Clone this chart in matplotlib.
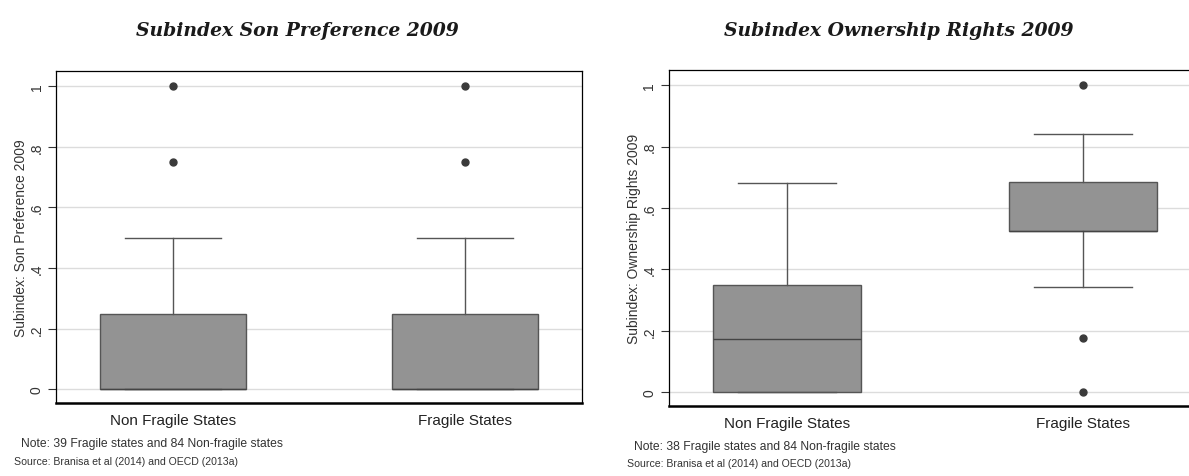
import numpy as np
import matplotlib
matplotlib.use("Agg")
import matplotlib.pyplot as plt

# group labels
groups = ["Non Fragile States", "Fragile States"]

# son preference 2009 box stats (non fragile, fragile)
son_q1 = [0.0, 0.0]
son_med = [0.0, 0.0]
son_q3 = [0.25, 0.25]
son_lo = [0.0, 0.0]
son_hi = [0.5, 0.5]
son_out = [[0.75, 1.0], [0.75, 1.0]]

# ownership rights 2009 box stats
own_q1 = [0.0, 0.525]
own_med = [0.173, 0.525]
own_q3 = [0.35, 0.685]
own_lo = [0.0, 0.343]
own_hi = [0.683, 0.843]
own_out = [[], [0.0, 0.175, 1.0]]

yticks = [0, 0.2, 0.4, 0.6, 0.8, 1.0]
ytick_labels = ["0", ".2", ".4", ".6", ".8", "1"]

plt.rcParams['font.family'] = ['Liberation Sans', 'DejaVu Sans']

BOX_FILL = "#939393"
EDGE = "#555555"
TXT = "#333333"


def make_stats(q1, med, q3, lo, hi, out):
  stats = []
  for i in range(len(q1)):
    stats.append(dict(q1=q1[i], med=med[i], q3=q3[i], whislo=lo[i],
                      whishi=hi[i], fliers=out[i], label=groups[i]))
  return stats


def draw(ax, stats, ylab):
  ax.bxp(stats, positions=[1, 2], widths=0.5, patch_artist=True,
         showfliers=True,
         boxprops=dict(facecolor=BOX_FILL, edgecolor=EDGE, linewidth=1.0),
         medianprops=dict(color="#444444", linewidth=1.0),
         whiskerprops=dict(color=EDGE, linewidth=1.0),
         capprops=dict(color=EDGE, linewidth=1.0),
         capwidths=0.33,
         flierprops=dict(marker='o', markerfacecolor="#3a3a3a",
                         markeredgecolor="#3a3a3a", markersize=5))
  ax.set_xlim(0.6, 2.4)
  ax.set_ylim(-0.045, 1.05)
  ax.set_yticks(yticks)
  ax.set_yticklabels(ytick_labels, rotation=90, va='center', fontsize=10,
                     color=TXT)
  ax.tick_params(axis='y', length=6, width=0.8, color="#333333", pad=3)
  ax.tick_params(axis='x', length=0, pad=7, labelsize=11, labelcolor="#222222")
  ax.set_xticks([1, 2])
  ax.set_xticklabels(groups)
  ax.grid(axis='y', color="#dcdcdc", linewidth=1.0)
  ax.set_axisbelow(True)
  for s in ["left", "top", "right"]:
    ax.spines[s].set_linewidth(0.9)
    ax.spines[s].set_color("black")
  ax.spines["bottom"].set_linewidth(1.8)
  ax.set_ylabel(ylab, fontsize=10, color=TXT, labelpad=1)


fig = plt.figure(figsize=(11.89, 4.77), dpi=100)
W, H = 1189.0, 477.0

ax1 = fig.add_axes([56 / W, 1 - 404 / H, 526 / W, 332 / H])
draw(ax1, make_stats(son_q1, son_med, son_q3, son_lo, son_hi, son_out),
     "Subindex: Son Preference 2009")

ax2 = fig.add_axes([669 / W, 1 - 407 / H, 532 / W, 336 / H])
draw(ax2, make_stats(own_q1, own_med, own_q3, own_lo, own_hi, own_out),
     "Subindex: Ownership Rights 2009")

title_kw = dict(family=['DejaVu Serif'], fontsize=13.5,
                fontweight='bold', fontstyle='italic', color="#1a1a1a",
                ha='center', va='center')
fig.text(297 / W, 1 - 31 / H, "Subindex Son Preference 2009", **title_kw)
fig.text(899 / W, 1 - 31 / H, "Subindex Ownership Rights 2009", **title_kw)

note_kw = dict(fontsize=8.7, color="#333333", ha='left', va='center')
src_kw = dict(fontsize=7.6, color="#333333", ha='left', va='center')
fig.text(21 / W, 1 - 444 / H, "Note: 39 Fragile states and 84 Non-fragile states", **note_kw)
fig.text(14 / W, 1 - 462 / H, "Source: Branisa et al (2014) and OECD (2013a)", **src_kw)
fig.text(634 / W, 1 - 447 / H, "Note: 38 Fragile states and 84 Non-fragile states", **note_kw)
fig.text(627 / W, 1 - 464 / H, "Source: Branisa et al (2014) and OECD (2013a)", **src_kw)

fig.savefig("out.png", dpi=100)
